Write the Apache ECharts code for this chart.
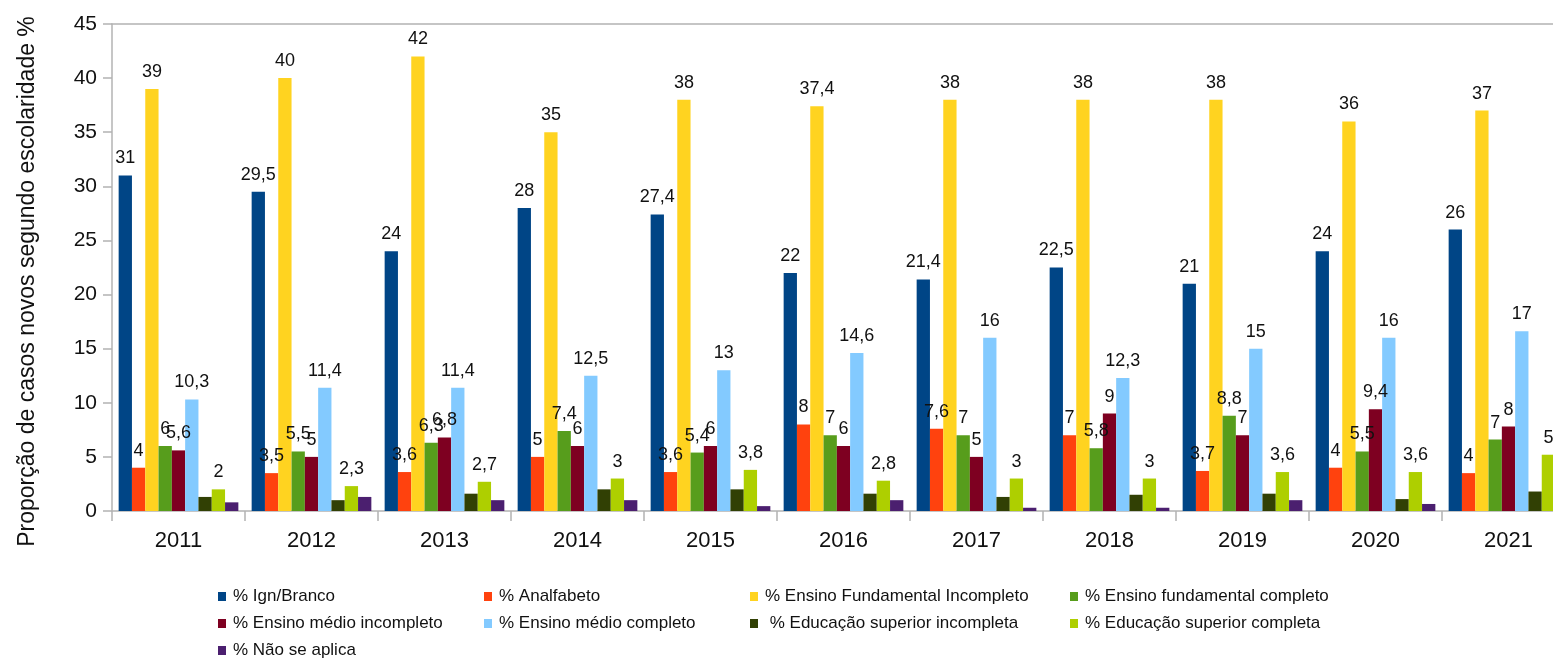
<!DOCTYPE html>
<html>
<head>
<meta charset="utf-8">
<script src="https://cdn.jsdelivr.net/npm/echarts@6/dist/echarts.min.js"></script>
<style>
html,body{margin:0;padding:0;background:#fff;overflow:hidden;width:1553px;height:660px;}
#chart{width:1575px;height:660px;}
</style>
</head>
<body>
<div id="chart"></div>
<script>
const years = ['2011','2012','2013','2014','2015','2016','2017','2018','2019','2020','2021'];
const seriesNames = [
  '% Ign/Branco',
  '% Analfabeto',
  '% Ensino Fundamental Incompleto',
  '% Ensino fundamental completo',
  '% Ensino médio incompleto',
  '% Ensino médio completo',
  ' % Educação superior incompleta',
  '% Educação superior completa',
  '% Não se aplica'
];
const colors = ['#004586','#ff420e','#ffd320','#579d1c','#7e0021','#83caff','#314004','#aecf00','#4b1f6f'];

// bar values (as drawn)
const ignBranco      = [31, 29.5, 24, 28, 27.4, 22, 21.4, 22.5, 21, 24, 26];
const analfabeto     = [4, 3.5, 3.6, 5, 3.6, 8, 7.6, 7, 3.7, 4, 3.5];
const fundIncompleto = [39, 40, 42, 35, 38, 37.4, 38, 38, 38, 36, 37];
const fundCompleto   = [6, 5.5, 6.3, 7.4, 5.4, 7, 7, 5.8, 8.8, 5.5, 6.6];
const medioIncomp    = [5.6, 5, 6.8, 6, 6, 6, 5, 9, 7, 9.4, 7.8];
const medioCompleto  = [10.3, 11.4, 11.4, 12.5, 13, 14.6, 16, 12.3, 15, 16, 16.6];
const supIncompleta  = [1.3, 1.0, 1.6, 2.0, 2.0, 1.6, 1.3, 1.5, 1.6, 1.1, 1.8];
const supCompleta    = [2, 2.3, 2.7, 3, 3.8, 2.8, 3, 3, 3.6, 3.6, 5.2];
const naoSeAplica    = [0.8, 1.3, 1.0, 1.0, 0.45, 1.0, 0.3, 0.3, 1.0, 0.65, 0.6];

// data label texts (as printed in the chart)
const ignBrancoLbl      = ['31','29,5','24','28','27,4','22','21,4','22,5','21','24','26'];
const analfabetoLbl     = ['4','3,5','3,6','5','3,6','8','7,6','7','3,7','4','4'];
const fundIncompletoLbl = ['39','40','42','35','38','37,4','38','38','38','36','37'];
const fundCompletoLbl   = ['6','5,5','6,3','7,4','5,4','7','7','5,8','8,8','5,5','7'];
const medioIncompLbl    = ['5,6','5','6,8','6','6','6','5','9','7','9,4','8'];
const medioCompletoLbl  = ['10,3','11,4','11,4','12,5','13','14,6','16','12,3','15','16','17'];
const supCompletaLbl    = ['2','2,3','2,7','3','3,8','2,8','3','3','3,6','3,6','5'];

const yTicks = {min: 0, max: 45, interval: 5};

const values = [ignBranco, analfabeto, fundIncompleto, fundCompleto, medioIncomp, medioCompleto, supIncompleta, supCompleta, naoSeAplica];
const labels = [ignBrancoLbl, analfabetoLbl, fundIncompletoLbl, fundCompletoLbl, medioIncompLbl, medioCompletoLbl, null, supCompletaLbl, null];

const FONT = '"Liberation Sans", Arial, sans-serif';
const AXIS = '#b3b3b3';

const series = values.map((v, i) => ({
  name: seriesNames[i],
  type: 'bar',
  data: v,
  barGap: '0%',
  barCategoryGap: '10%',
  itemStyle: {color: colors[i]},
  label: labels[i] ? {
    show: true,
    position: 'top',
    distance: 8,
    color: '#111',
    fontFamily: FONT,
    fontSize: 18,
    formatter: p => labels[i][p.dataIndex]
  } : {show: false}
}));

const legendCols = [
  {left: 218, items: [0, 4, 8]},
  {left: 484, items: [1, 5]},
  {left: 750, items: [2, 6]},
  {left: 1070, items: [3, 7]}
];
const legends = legendCols.map(c => ({
  orient: 'vertical',
  left: c.left,
  top: 588,
  itemWidth: 8,
  itemHeight: 9,
  itemGap: 10,
  icon: 'rect',
  padding: 0,
  selectedMode: false,
  data: c.items.map(k => seriesNames[k]),
  textStyle: {fontFamily: FONT, fontSize: 17, lineHeight: 17, color: '#111', padding: [0,0,0,2]}
}));

const chart = echarts.init(document.getElementById('chart'));
chart.setOption({
  animation: false,
  backgroundColor: '#fff',
  color: colors,
  grid: {left: 112, top: 24, right: 0, bottom: 149, containLabel: false},
  legend: legends,
  xAxis: [{
    type: 'category',
    data: years,
    axisLine: {lineStyle: {color: AXIS, width: 1.5}},
    axisTick: {show: true, length: 10, lineStyle: {color: AXIS, width: 1.5}},
    axisLabel: {color: '#111', fontFamily: FONT, fontSize: 22, margin: 19}
  }, {
    type: 'category',
    data: years,
    position: 'top',
    axisLine: {lineStyle: {color: AXIS, width: 1.5}},
    axisTick: {show: false},
    axisLabel: {show: false}
  }],
  yAxis: {
    type: 'value',
    min: yTicks.min, max: yTicks.max, interval: yTicks.interval,
    name: 'Proporção de casos novos segundo escolaridade %',
    nameLocation: 'middle',
    nameGap: 73,
    nameTextStyle: {fontFamily: FONT, fontSize: 23, color: '#111', padding: [0, 28, 0, 0]},
    axisLine: {show: true, lineStyle: {color: AXIS, width: 1.5}},
    axisTick: {show: true, length: 9, lineStyle: {color: AXIS, width: 1.5}},
    axisLabel: {color: '#111', fontFamily: FONT, fontSize: 21, margin: 15},
    splitLine: {show: false}
  },
  series: series
});
</script>
</body>
</html>
